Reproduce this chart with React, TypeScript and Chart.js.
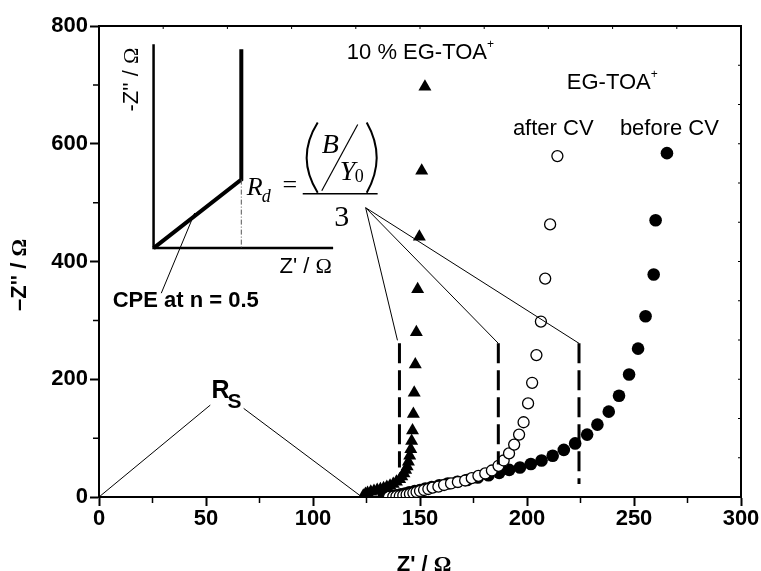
import React, { useEffect, useRef } from "react";
import { Chart, registerables } from "chart.js";

Chart.register(...registerables);

// ---- axis ticks ----
const xTicks = [0, 50, 100, 150, 200, 250, 300];
const xMinorTicks = [25, 75, 125, 175, 225, 275];
const yTicks = [0, 200, 400, 600, 800];
const yMinorTicks = [100, 300, 500, 700];

// ---- series: 10 % EG-TOA+ (triangles) ----
const tenPctX = [123.5, 124.5, 125.5, 127, 128.5, 130, 131.5, 133, 134.5, 136, 137.5, 139, 140.5, 141.5, 142.5, 143.3, 144, 144.6, 145.2, 145.7, 146.1, 146.5, 146.9, 147.3, 147.8, 148.3, 148.9, 149.7, 150.8, 152.3];
const tenPctY = [2, 5, 7, 9, 10, 12, 13, 15, 17, 19, 22, 26, 30, 35, 40, 46, 52, 60, 70, 81, 95, 113, 141, 177, 225, 280, 353, 442, 554, 697];

// ---- series: EG-TOA+ after CV (open circles) ----
const afterCvX = [135.5, 137.5, 139, 140.6, 142.2, 143.75, 145.3, 146.9, 148.4, 150, 151.9, 153.9, 155.9, 158.6, 161.25, 164.5, 167.7, 171.1, 174.2, 177.3, 180.5, 183.6, 186.7, 189.1, 191.6, 194, 196.3, 198.4, 200.5, 202.4, 204.4, 206.5, 208.5, 210.8, 214.2];
const afterCvY = [0.3, 0.6, 1.1, 1.7, 2.8, 4, 5.1, 6.8, 8.5, 10.2, 11.9, 13.6, 15.9, 17.6, 20.4, 23, 25.5, 28, 32, 36, 40, 45, 53, 62, 74, 89, 106, 127, 159, 194, 241, 298, 371, 463, 579];

// ---- series: EG-TOA+ before CV (filled circles) ----
const beforeCvX = [133, 135, 137, 139, 141, 143, 145, 147.5, 150, 152.5, 155.5, 159, 163, 167.5, 172, 177, 182, 187, 191.7, 196.7, 201.8, 206.8, 212, 217.2, 222.5, 228.1, 232.9, 238.2, 243, 247.7, 251.9, 255.4, 259.2, 260.1, 265.4];
const beforeCvY = [0.5, 1, 2, 3, 4.5, 6, 8, 10, 12, 14.5, 17, 20, 23, 26, 29, 33, 37, 41, 46, 50, 56, 62, 70, 80, 91, 106, 123, 145, 172, 208, 252, 307, 378, 470, 584];

// ---- dashed R_d markers and leader lines ----
const dashX = [140.4, 186.6, 224.3];
const dashTopY = [261, 261, 261];
const dashBottomY = [50, 55, 22];
const leaderFrom = [124.6, 491.4];

// ---- R_S leader lines ----
const rsLeftLine = [[0, 0], [52.0, 156.1]];
const rsRightLine = [[67.6, 150.5], [121.8, 2.9]];

const SANS = '"Liberation Sans", Arial, sans-serif';
const SERIF = '"Liberation Serif", "Times New Roman", serif';

type Run = [string, string, number?]; // text, font, dy

function drawRuns(ctx: CanvasRenderingContext2D, x: number, y: number, runs: Run[], align: "left" | "center" | "right" = "left") {
  ctx.textAlign = "left";
  ctx.textBaseline = "alphabetic";
  let total = 0;
  for (const r of runs) {
    ctx.font = r[1];
    total += ctx.measureText(r[0]).width;
  }
  let cx = align === "left" ? x : align === "center" ? x - total / 2 : x - total;
  for (const r of runs) {
    ctx.font = r[1];
    ctx.fillText(r[0], cx, y + (r[2] || 0));
    cx += ctx.measureText(r[0]).width;
  }
}

const annotPlugin = {
  id: "annot",
  afterDatasetsDraw(chart: any) {
    const ctx: CanvasRenderingContext2D = chart.ctx;
    const xs = chart.scales.x;
    const ys = chart.scales.y;
    const X = (v: number) => xs.getPixelForValue(v);
    const Y = (v: number) => ys.getPixelForValue(v);
    const area = chart.chartArea;
    ctx.save();
    ctx.fillStyle = "#000";
    ctx.strokeStyle = "#000";

    // dashed vertical lines
    ctx.lineWidth = 3;
    ctx.setLineDash([20, 7]);
    dashX.forEach((dx, i) => {
      ctx.beginPath();
      ctx.moveTo(X(dx), Y(dashTopY[i]));
      ctx.lineTo(X(dx), Y(dashBottomY[i]));
      ctx.stroke();
    });
    ctx.setLineDash([]);

    // leader lines from fraction
    ctx.lineWidth = 1;
    dashX.forEach((dx, i) => {
      ctx.beginPath();
      ctx.moveTo(X(leaderFrom[0]), Y(leaderFrom[1]));
      ctx.lineTo(X(dx) - (i === 0 ? 2 : 0), Y(dashTopY[i]) - (i === 0 ? 3 : 0));
      ctx.stroke();
    });

    // R_S lines
    for (const ln of [rsLeftLine, rsRightLine]) {
      ctx.beginPath();
      ctx.moveTo(X(ln[0][0]), Y(ln[0][1]));
      ctx.lineTo(X(ln[1][0]), Y(ln[1][1]));
      ctx.stroke();
    }
    drawRuns(ctx, X(52.6), Y(167.5), [["R", `bold 25px ${SANS}`]]);
    drawRuns(ctx, X(60.1), Y(150.4), [["S", `bold 21px ${SANS}`]]);

    // inset schematic
    ctx.lineWidth = 2.5;
    ctx.beginPath();
    ctx.moveTo(X(25.5), Y(768.9));
    ctx.lineTo(X(25.5), Y(422.8));
    ctx.lineTo(X(109.4), Y(422.8));
    ctx.stroke();
    ctx.lineWidth = 4;
    ctx.lineJoin = "miter";
    ctx.beginPath();
    ctx.moveTo(X(25.5), Y(422.8));
    ctx.lineTo(X(66.5), Y(539.1));
    ctx.lineTo(X(66.5), Y(760.3));
    ctx.stroke();
    ctx.lineWidth = 1;
    ctx.strokeStyle = "#555";
    ctx.setLineDash([5, 2, 1, 2]);
    ctx.beginPath();
    ctx.moveTo(X(66.5), Y(539.1));
    ctx.lineTo(X(66.5), Y(422.8));
    ctx.stroke();
    ctx.setLineDash([]);
    ctx.strokeStyle = "#000";
    // CPE leader
    ctx.beginPath();
    ctx.moveTo(X(44.7), Y(482.4));
    ctx.lineTo(X(29.1), Y(346.2));
    ctx.stroke();

    // inset labels
    ctx.save();
    ctx.translate(X(14.3) + 8, Y(709));
    ctx.rotate(-Math.PI / 2);
    drawRuns(ctx, 0, 0, [["-Z'' / ", `22px ${SANS}`], ["\u03A9", `22px ${SERIF}`]], "center");
    ctx.restore();
    drawRuns(ctx, X(108.8), Y(380.8), [["Z' / ", `22px ${SANS}`], ["\u03A9", `22px ${SERIF}`]], "right");
    drawRuns(ctx, X(6.4), Y(322.8), [["CPE at n = 0.5", `bold 22px ${SANS}`]]);

    // fraction R_d = (B/Y0)/3
    drawRuns(ctx, X(69.0), Y(513.5), [["R", `italic 26px ${SERIF}`]]);
    drawRuns(ctx, X(76.0), Y(501.6), [["d", `italic 18px ${SERIF}`]]);
    drawRuns(ctx, X(85.8), Y(516.9), [["=", `26px ${SERIF}`]]);
    ctx.lineWidth = 1.5;
    ctx.beginPath();
    ctx.moveTo(X(95.2), Y(515.2));
    ctx.lineTo(X(130.2), Y(515.2));
    ctx.stroke();
    ctx.lineWidth = 2;
    ctx.beginPath();
    ctx.moveTo(X(102.2), Y(636.1));
    ctx.quadraticCurveTo(X(91.9), Y(576.5), X(102.2), Y(516.9));
    ctx.stroke();
    ctx.beginPath();
    ctx.moveTo(X(125.1), Y(636.1));
    ctx.quadraticCurveTo(X(134.4), Y(576.5), X(125.1), Y(516.9));
    ctx.stroke();
    drawRuns(ctx, X(104.1), Y(585.0), [["B", `italic 28px ${SERIF}`]]);
    ctx.lineWidth = 1.2;
    ctx.beginPath();
    ctx.moveTo(X(104.1), Y(520.3));
    ctx.lineTo(X(120.9), Y(632.7));
    ctx.stroke();
    drawRuns(ctx, X(112.5), Y(538.7), [["Y", `italic 28px ${SERIF}`]]);
    drawRuns(ctx, X(119.5), Y(535.3), [["0", `18px ${SERIF}`]]);
    drawRuns(ctx, X(113.4), Y(460.8), [["3", `30px ${SERIF}`]], "center");

    // series labels
    drawRuns(ctx, X(115.8), Y(743.3), [["10 % EG-TOA", `22px ${SANS}`], ["+", `12px ${SANS}`, -11]]);
    drawRuns(ctx, X(218.6), Y(692.3), [["EG-TOA", `22px ${SANS}`], ["+", `12px ${SANS}`, -11]]);
    drawRuns(ctx, X(193.4), Y(615.7), [["after CV", `22px ${SANS}`]]);
    drawRuns(ctx, X(243.4), Y(615.7), [["before CV", `22px ${SANS}`]]);

    // frame: top & right border, minor ticks
    ctx.lineWidth = 2;
    ctx.beginPath();
    ctx.moveTo(area.left, area.top);
    ctx.lineTo(area.right, area.top);
    ctx.lineTo(area.right, area.bottom);
    ctx.stroke();
    ctx.lineWidth = 1.5;
    ctx.beginPath();
    for (const v of xMinorTicks) {
      ctx.moveTo(X(v), area.bottom);
      ctx.lineTo(X(v), area.bottom + 6);
    }
    for (const v of yMinorTicks) {
      ctx.moveTo(area.left, Y(v));
      ctx.lineTo(area.left - 6, Y(v));
    }
    ctx.stroke();
    ctx.lineWidth = 1;
    ctx.beginPath();
    for (let i = 1; i < 10; i++) {
      const v = xs.min + ((xs.max - xs.min) * i) / 10;
      ctx.moveTo(X(v), area.top);
      ctx.lineTo(X(v), area.top + 3);
    }
    for (let i = 1; i < 12; i++) {
      const v = ys.min + ((ys.max - ys.min) * i) / 12;
      ctx.moveTo(area.right, Y(v));
      ctx.lineTo(area.right - 3, Y(v));
    }
    ctx.stroke();

    // axis titles
    drawRuns(ctx, (area.left + area.right) / 2 + 4, 571, [["Z' / ", `bold 22px ${SANS}`], ["\u03A9", `bold 22px ${SERIF}`]], "center");
    ctx.save();
    ctx.translate(26, 275);
    ctx.rotate(-Math.PI / 2);
    drawRuns(ctx, 0, 0, [["\u2013Z'' / ", `bold 22px ${SANS}`], ["\u03A9", `bold 22px ${SERIF}`]], "center");
    ctx.restore();

    ctx.restore();
  },
};

const toPts = (xs: number[], ys: number[]) => xs.map((x, i) => ({ x, y: ys[i] }));

export default function App() {
  const ref = useRef<HTMLCanvasElement | null>(null);
  useEffect(() => {
    if (!ref.current) return;
    const tickFont = { family: SANS, size: 22, weight: "bold" as const };
    const chart = new Chart(ref.current, {
      type: "scatter",
      data: {
        datasets: [
          {
            label: "10 % EG-TOA+",
            data: toPts(tenPctX, tenPctY),
            pointStyle: "triangle",
            pointRadius: 7.5,
            backgroundColor: "#000",
            borderColor: "#000",
            borderWidth: 0,
          },
          {
            label: "EG-TOA+ after CV",
            data: toPts(afterCvX, afterCvY),
            pointStyle: "circle",
            pointRadius: 5.5,
            backgroundColor: "#fff",
            borderColor: "#000",
            borderWidth: 1.3,
          },
          {
            label: "EG-TOA+ before CV",
            data: toPts(beforeCvX, beforeCvY),
            pointStyle: "circle",
            pointRadius: 6.3,
            backgroundColor: "#000",
            borderColor: "#000",
            borderWidth: 0,
          },
        ],
      },
      options: {
        animation: false,
        responsive: false,
        layout: { padding: { left: 0, right: 20, top: 26, bottom: 0 } },
        plugins: { legend: { display: false }, tooltip: { enabled: false } },
        scales: {
          x: {
            type: "linear",
            min: 0,
            max: 300,
            afterBuildTicks: (s: any) => {
              s.ticks = xTicks.map((v) => ({ value: v }));
            },
            afterFit: (s: any) => {
              s.height = 74;
            },
            ticks: { font: tickFont, color: "#000", padding: 0, maxRotation: 0 },
            grid: { drawOnChartArea: false, drawTicks: true, tickLength: 9, tickWidth: 2, tickColor: "#000" },
            border: { display: true, width: 2, color: "#000" },
          },
          y: {
            type: "linear",
            min: 0,
            max: 800,
            afterBuildTicks: (s: any) => {
              s.ticks = yTicks.map((v) => ({ value: v }));
            },
            afterFit: (s: any) => {
              s.width = 99;
            },
            ticks: { font: tickFont, color: "#000", padding: 2 },
            grid: { drawOnChartArea: false, drawTicks: true, tickLength: 9, tickWidth: 2, tickColor: "#000" },
            border: { display: true, width: 2, color: "#000" },
          },
        },
      },
      plugins: [annotPlugin],
    });
    return () => chart.destroy();
  }, []);
  return (
    <div style={{ position: "absolute", left: 0, top: 0, width: 761, height: 571, background: "#fff" }}>
      <canvas ref={ref} width={761} height={571} style={{ display: "block" }} />
    </div>
  );
}
